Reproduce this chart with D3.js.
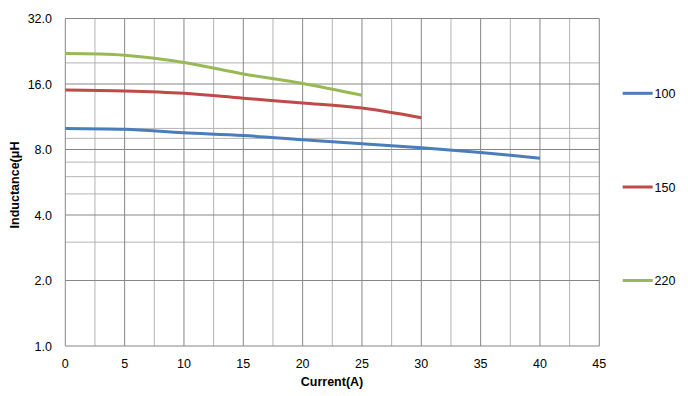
<!DOCTYPE html>
<html>
<head>
<meta charset="utf-8">
<script src="https://cdn.jsdelivr.net/npm/d3@7"></script>
<style>
  body { margin: 0; background: #fff; }
  text { font-family: "Liberation Sans", Arial, sans-serif; }
</style>
</head>
<body>
<div id="chart"></div>
<script>
// data
const current100 = [0, 5, 10, 15, 20, 25, 30, 35, 40]
const ind100 = [10.0, 9.9, 9.55, 9.28, 8.86, 8.5, 8.14, 7.75, 7.3]
const current150 = [0, 5, 10, 15, 20, 25, 30]
const ind150 = [15.0, 14.86, 14.5, 13.76, 13.1, 12.4, 11.2]
const current220 = [0, 5, 10, 15, 20, 25]
const ind220 = [22.1, 21.7, 20.1, 17.8, 16.1, 14.2]

const seriesNames = ['100', '150', '220']
const colors = ['#4a7ebb', '#be4b48', '#98b954']

const xTicks = [0, 5, 10, 15, 20, 25, 30, 35, 40, 45]
const xMinor = [2.5, 7.5, 12.5, 17.5, 22.5, 27.5, 32.5, 37.5, 42.5]
const yTicks = [1, 2, 4, 8, 16, 32]
const yMinor = [3, 5, 6, 7, 9, 10, 20]

const W = 688
const H = 396
const mLeft = 65.3, mRight = 599.3, mTop = 18.5, mBottom = 346

const svg = d3.select('#chart').append('svg').attr('width', W).attr('height', H)

const x = d3.scaleLinear([0, 45], [mLeft, mRight])
const y = d3.scaleLog().base(2).domain([1, 32]).range([mBottom, mTop])

// minor grid
svg.append('g')
  .selectAll('line')
  .data(xMinor)
  .enter()
  .append('line')
  .attr('x1', (d) => x(d)).attr('x2', (d) => x(d))
  .attr('y1', mTop).attr('y2', mBottom)
  .attr('stroke', '#b4b4b4').attr('stroke-width', 1)

svg.append('g')
  .selectAll('line')
  .data(yMinor)
  .enter()
  .append('line')
  .attr('x1', mLeft).attr('x2', mRight)
  .attr('y1', (d) => y(d)).attr('y2', (d) => y(d))
  .attr('stroke', '#b4b4b4').attr('stroke-width', 1)

// major grid
svg.append('g')
  .selectAll('line')
  .data(xTicks)
  .enter()
  .append('line')
  .attr('x1', (d) => x(d)).attr('x2', (d) => x(d))
  .attr('y1', mTop).attr('y2', mBottom)
  .attr('stroke', '#868686').attr('stroke-width', 1)

svg.append('g')
  .selectAll('line')
  .data(yTicks)
  .enter()
  .append('line')
  .attr('x1', mLeft).attr('x2', mRight)
  .attr('y1', (d) => y(d)).attr('y2', (d) => y(d))
  .attr('stroke', '#868686').attr('stroke-width', 1)

// tick labels
svg.append('g')
  .selectAll('text')
  .data(yTicks)
  .enter()
  .append('text')
  .attr('x', 52)
  .attr('y', (d) => y(d) + 4.5)
  .attr('text-anchor', 'end')
  .attr('font-size', 12.5)
  .attr('fill', '#000')
  .text((d) => d3.format('.1f')(d))

svg.append('g')
  .selectAll('text')
  .data(xTicks)
  .enter()
  .append('text')
  .attr('x', (d) => x(d))
  .attr('y', 367.5)
  .attr('text-anchor', 'middle')
  .attr('font-size', 12.5)
  .attr('fill', '#000')
  .text((d) => d)

// axis titles
svg.append('text')
  .attr('x', 332).attr('y', 385.5)
  .attr('text-anchor', 'middle')
  .attr('font-size', 12.5).attr('font-weight', 'bold')
  .text('Current(A)')

svg.append('text')
  .attr('transform', 'translate(18.5,185) rotate(-90)')
  .attr('text-anchor', 'middle')
  .attr('font-size', 12.5).attr('font-weight', 'bold')
  .text('Inductance(μH')

// series
const series = [
  current100.map((c, i) => [c, ind100[i]]),
  current150.map((c, i) => [c, ind150[i]]),
  current220.map((c, i) => [c, ind220[i]])
]

const line = d3.line()
  .x((d) => x(d[0]))
  .y((d) => y(d[1]))
  .curve(d3.curveCatmullRom.alpha(0.5))

svg.append('g')
  .selectAll('path')
  .data(series)
  .enter()
  .append('path')
  .attr('d', line)
  .attr('fill', 'none')
  .attr('stroke', (d, i) => colors[i])
  .attr('stroke-width', 3)
  .attr('stroke-linecap', 'butt')

// legend
const legendY = [93.3, 187, 280.5]
const legend = svg.append('g')
  .selectAll('g')
  .data(seriesNames)
  .enter()
  .append('g')
  .attr('transform', (d, i) => `translate(0,${legendY[i]})`)

legend.append('line')
  .attr('x1', 622.7).attr('x2', 652.7)
  .attr('stroke', (d, i) => colors[i])
  .attr('stroke-width', 3)

legend.append('text')
  .attr('x', 654.5).attr('y', 4.5)
  .attr('font-size', 12.5)
  .text((d) => d)
</script>
</body>
</html>
